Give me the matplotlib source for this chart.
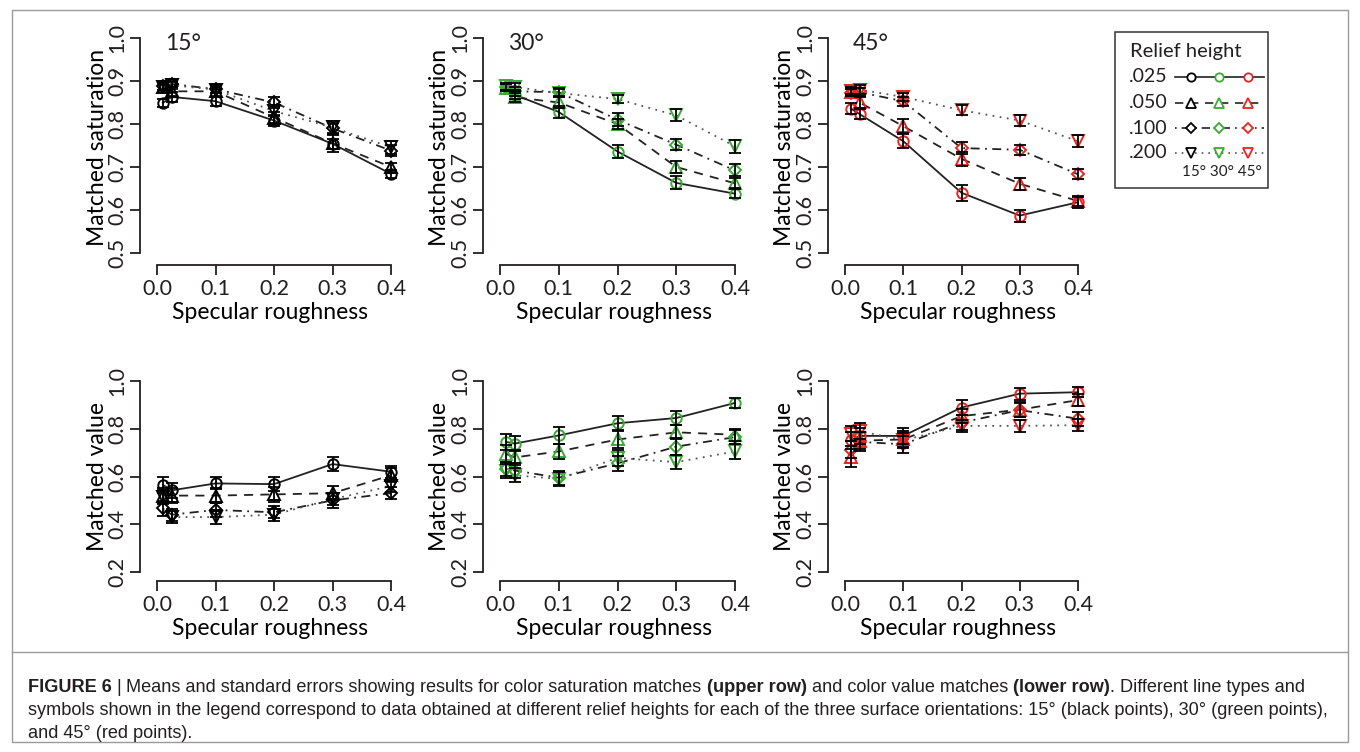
import matplotlib
matplotlib.use("Agg")
import matplotlib.pyplot as plt
from matplotlib import font_manager
from matplotlib.patches import Rectangle

# roughness levels (x) shared by all panels
roughness = [0.01, 0.025, 0.1, 0.2, 0.3, 0.4]
heights = [".025", ".050", ".100", ".200"]
angles = ["15°", "30°", "45°"]

# matched saturation, rows = relief height .025/.050/.100/.200
sat15 = [[0.849, 0.863, 0.853, 0.808, 0.754, 0.684],
         [0.885, 0.876, 0.876, 0.815, 0.755, 0.700],
         [0.888, 0.893, 0.881, 0.850, 0.790, 0.738],
         [0.887, 0.890, 0.880, 0.830, 0.792, 0.746]]
sat30 = [[0.885, 0.868, 0.828, 0.736, 0.663, 0.638],
         [0.884, 0.862, 0.850, 0.800, 0.700, 0.662],
         [0.886, 0.876, 0.874, 0.810, 0.752, 0.692],
         [0.888, 0.886, 0.872, 0.858, 0.820, 0.748]]
sat45 = [[0.836, 0.823, 0.760, 0.640, 0.587, 0.618],
         [0.874, 0.850, 0.795, 0.719, 0.661, 0.621],
         [0.873, 0.874, 0.853, 0.744, 0.740, 0.683],
         [0.877, 0.880, 0.863, 0.832, 0.808, 0.760]]

sat15_se = [[0.010, 0.012, 0.010, 0.012, 0.012, 0.010],
            [0.008, 0.010, 0.010, 0.012, 0.020, 0.010],
            [0.008, 0.008, 0.008, 0.012, 0.012, 0.012],
            [0.008, 0.008, 0.008, 0.012, 0.015, 0.015]]
sat30_se = [[0.008, 0.010, 0.014, 0.016, 0.015, 0.010],
            [0.008, 0.010, 0.012, 0.012, 0.015, 0.012],
            [0.008, 0.010, 0.010, 0.015, 0.012, 0.014],
            [0.008, 0.010, 0.010, 0.010, 0.014, 0.015]]
sat45_se = [[0.012, 0.012, 0.016, 0.018, 0.014, 0.013],
            [0.010, 0.012, 0.016, 0.016, 0.014, 0.012],
            [0.008, 0.010, 0.010, 0.014, 0.012, 0.012],
            [0.008, 0.010, 0.010, 0.012, 0.012, 0.014]]

# matched value
val15 = [[0.565, 0.542, 0.571, 0.568, 0.652, 0.620],
         [0.520, 0.520, 0.520, 0.525, 0.530, 0.605],
         [0.466, 0.440, 0.460, 0.450, 0.500, 0.530],
         [0.515, 0.430, 0.430, 0.440, 0.505, 0.560]]
val30 = [[0.745, 0.738, 0.772, 0.823, 0.845, 0.908],
         [0.695, 0.680, 0.705, 0.755, 0.785, 0.775],
         [0.632, 0.625, 0.595, 0.655, 0.725, 0.765],
         [0.622, 0.605, 0.590, 0.678, 0.660, 0.705]]
val45 = [[0.752, 0.770, 0.770, 0.889, 0.947, 0.953],
         [0.683, 0.750, 0.755, 0.853, 0.880, 0.920],
         [0.712, 0.745, 0.735, 0.826, 0.878, 0.842],
         [0.780, 0.790, 0.752, 0.812, 0.812, 0.815]]

val15_se = [[0.035, 0.030, 0.025, 0.030, 0.030, 0.025],
            [0.030, 0.030, 0.030, 0.030, 0.030, 0.030],
            [0.030, 0.025, 0.030, 0.025, 0.030, 0.025],
            [0.030, 0.025, 0.030, 0.025, 0.025, 0.025]]
val30_se = [[0.035, 0.030, 0.035, 0.030, 0.030, 0.020],
            [0.035, 0.030, 0.030, 0.035, 0.030, 0.025],
            [0.030, 0.030, 0.030, 0.030, 0.035, 0.030],
            [0.030, 0.030, 0.030, 0.035, 0.030, 0.030]]
val45_se = [[0.035, 0.035, 0.035, 0.030, 0.025, 0.020],
            [0.045, 0.035, 0.035, 0.030, 0.030, 0.025],
            [0.035, 0.040, 0.035, 0.030, 0.030, 0.030],
            [0.030, 0.035, 0.030, 0.025, 0.025, 0.025]]

sat_means = [sat15, sat30, sat45]
sat_errs = [sat15_se, sat30_se, sat45_se]
val_means = [val15, val30, val45]
val_errs = [val15_se, val30_se, val45_se]

panel_colors = ["black", "#3aaa35", "#e8241f"]
markers = ["o", "^", "D", "v"]
msizes = [7.5, 8, 6.5, 8]
styles = ["-", (0, (5, 4)), (0, (1, 3, 5, 3)), (0, (1, 3))]
line_colors = ["#222222", "#222222", "#222222", "#555555"]

font = "Lato"
plt.rcParams["font.family"] = [font, "DejaVu Sans"]
plt.rcParams["text.color"] = "#231f20"

names = {f.name for f in font_manager.fontManager.ttflist}
cap_font = "Liberation Sans Narrow" if "Liberation Sans Narrow" in names else "Liberation Sans"

W, H = 1360, 752
fig = plt.figure(figsize=(W / 100, H / 100), dpi=100)


def px_axes(l, t, r, b):
    return fig.add_axes([l / W, 1 - b / H, (r - l) / W, (b - t) / H])


lefts = [140, 483, 828]
zero_px = [157, 500, 845]
four_px = [391, 735, 1078]


def draw_panel(ax, means, errs, color, ylo, yhi, yticks, ylabel):
    for i in range(4):
        ax.plot(roughness, means[i], color=line_colors[i], ls=styles[i], lw=1.3, zorder=2)
        ax.plot(roughness, means[i], ls="none", marker=markers[i], ms=msizes[i],
                mfc="none", mec=color, mew=1.4, zorder=3)
        ax.errorbar(roughness, means[i], yerr=errs[i], fmt="none", ecolor="black",
                    elinewidth=1.3, capsize=4, capthick=1.3, zorder=4)
    for s in ["top", "right"]:
        ax.spines[s].set_visible(False)
    ax.spines["left"].set_bounds(ylo, yhi)
    ax.spines["bottom"].set_bounds(0, 0.4)
    for s in ["left", "bottom"]:
        ax.spines[s].set_linewidth(1.3)
        ax.spines[s].set_color("#231f20")
    ax.set_xticks([0, 0.1, 0.2, 0.3, 0.4])
    ax.set_xticklabels(["0.0", "0.1", "0.2", "0.3", "0.4"])
    ax.set_yticks(yticks)
    ax.set_yticklabels(["%.1f" % v for v in yticks])
    ax.tick_params(length=7, width=1.3, labelsize=15.5, colors="#231f20", pad=3)
    ax.tick_params(axis="y", labelrotation=90, pad=2)
    for lab in ax.get_yticklabels():
        lab.set_va("center")
    ax.set_xlabel("Specular roughness", fontsize=16.5, labelpad=2)
    ax.set_ylabel(ylabel, fontsize=16.5, labelpad=0)
    ax.patch.set_visible(False)


rows = [
    (30, 265, 38, 253, 0.5, 1.0, [0.5, 0.6, 0.7, 0.8, 0.9, 1.0], "Matched saturation", sat_means, sat_errs),
    (372, 581, 381, 572, 0.2, 1.0, [0.2, 0.4, 0.6, 0.8, 1.0], "Matched value", val_means, val_errs),
]

for top, bot, py_hi, py_lo, ylo, yhi, yticks, ylabel, means_all, errs_all in rows:
    yscale = (py_lo - py_hi) / (yhi - ylo)
    for k in range(3):
        xscale = (four_px[k] - zero_px[k]) / 0.4
        right = four_px[k] + 9
        ax = px_axes(lefts[k], top, right, bot)
        draw_panel(ax, means_all[k], errs_all[k], panel_colors[k], ylo, yhi, yticks, ylabel)
        ax.set_xlim(-(zero_px[k] - lefts[k]) / xscale, 0.4 + 9 / xscale)
        ax.set_ylim(ylo - (bot - py_lo) / yscale, yhi + (py_hi - top) / yscale)

# overlay in pixel coordinates: titles, legend, frame, caption
ov = fig.add_axes([0, 0, 1, 1])
ov.set_xlim(0, W)
ov.set_ylim(H, 0)
ov.axis("off")
ov.patch.set_visible(False)

for k, a in enumerate(angles):
    ov.text(zero_px[k] + 8, 43, a, fontsize=16.5, ha="left", va="center")

# legend box
ov.add_patch(Rectangle((1115, 32), 153, 156, fill=False, ec="#333333", lw=1.1))
ov.text(1130, 52, "Relief height", fontsize=14.5, ha="left", va="center")
leg_y = [77, 103, 128, 153]
leg_x = [1191, 1219, 1248]
for i in range(4):
    ov.text(1129, leg_y[i], heights[i], fontsize=14, ha="left", va="center")
    ov.plot([1175, 1264], [leg_y[i], leg_y[i]], color=line_colors[i], ls=styles[i], lw=1.2)
    for j in range(3):
        ov.plot([leg_x[j]], [leg_y[i]], marker=markers[i], ms=msizes[i] - 1.5, mfc="white",
                mec=panel_colors[j], mew=1.3, ls="none")
ov.text(1222, 172, "15° 30° 45°", fontsize=11, ha="center", va="center")

# outer frame and separator
ov.add_patch(Rectangle((12, 10), 1336, 732, fill=False, ec="#9a9a9a", lw=1.0))
ov.plot([12, 1348], [652, 652], color="#9a9a9a", lw=1.0)

renderer = fig.canvas.get_renderer()


def text_width(s, bold, size):
    t = ov.text(0, 0, s, fontsize=size, family=[cap_font, "DejaVu Sans"],
                fontweight="bold" if bold else "normal")
    w = t.get_window_extent(renderer).width
    t.remove()
    return w


line1 = [
    ("FIGURE 6", True, False),
    ("|", False, True),
    ("Means and standard errors showing results for color saturation matches", False, True),
    ("(upper row)", True, True),
    ("and color value matches", False, True),
    ("(lower row)", True, True),
    (". Different line types and", False, False),
]
line2 = [
    ("symbols shown in the legend correspond to data obtained at different relief heights for each of the "
     "three surface orientations: 15° (black points), 30° (green points),", False, False),
]
line3 = [("and 45° (red points).", False, False)]


def line_width(parts, size):
    sp = text_width("x x", False, size) - text_width("xx", False, size)
    return sum(text_width(s, b, size) + (sp if g else 0) for s, b, g in parts)


# pick a caption size so the second line ends where the original's does
cap_size = 10.0 * 1312 / line_width(line2, 10.0)
space_w = text_width("x x", False, cap_size) - text_width("xx", False, cap_size)


def rich_line(x, y, parts):
    for s, bold, gap in parts:
        if gap:
            x += space_w
        t = ov.text(x, y, s, fontsize=cap_size, family=[cap_font, "DejaVu Sans"],
                    fontweight="bold" if bold else "normal", ha="left", va="baseline",
                    color="#231f20")
        x += t.get_window_extent(renderer).width


rich_line(28, 692, line1)
rich_line(28, 715, line2)
rich_line(28, 738, line3)

fig.savefig("out.png", dpi=100)
